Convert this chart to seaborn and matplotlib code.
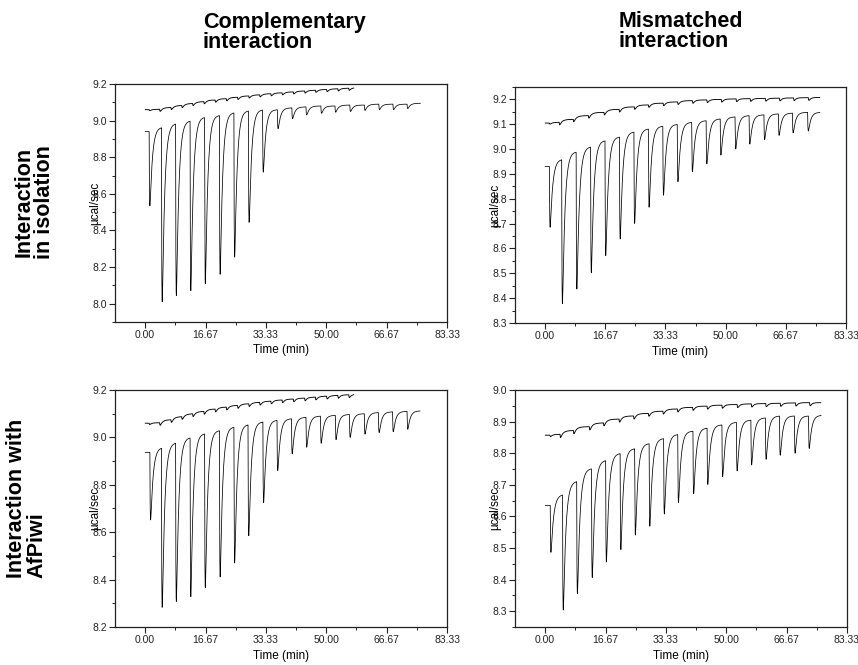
import numpy as np
import pandas as pd
import matplotlib
matplotlib.use("Agg")
import matplotlib.pyplot as plt
import seaborn as sns
from matplotlib.ticker import FixedLocator, MultipleLocator, FormatStrFormatter

# ---------------- data ----------------
col_titles = ["Complementary\ninteraction", "Mismatched\ninteraction"]
row_titles = ["Interaction\nin isolation", "Interaction with\nAfPiwi"]
x_ticks = [0.00, 16.67, 33.33, 50.00, 66.67, 83.33]

# Complementary, isolation (top-left)
tl_inj_t = [1.1, 4.5, 8.4, 12.4, 16.4, 20.5, 24.5, 28.5, 32.4, 36.5, 40.5, 44.4, 48.5, 52.4, 56.5, 60.5, 64.5, 68.4, 72.3]
tl_min = [8.53, 8.01, 8.045, 8.07, 8.11, 8.16, 8.255, 8.445, 8.72, 8.955, 9.01, 9.03, 9.04, 9.045, 9.05, 9.055, 9.06, 9.06, 9.065]
tl_base = [8.94, 8.965, 8.985, 9.0, 9.02, 9.03, 9.045, 9.055, 9.06, 9.06, 9.07, 9.075, 9.08, 9.08, 9.085, 9.085, 9.09, 9.09, 9.09, 9.095]
tl_end = 76.0
tl_ref_t = [1.1, 4.0, 7.1, 10.1, 13.1, 16.2, 19.3, 22.4, 25.5, 28.6, 31.6, 34.7, 37.8, 40.9, 44.0, 47.0, 50.1, 53.2, 56.2]
tl_ref_base = [9.06, 9.062, 9.072, 9.083, 9.094, 9.104, 9.113, 9.12, 9.128, 9.135, 9.141, 9.147, 9.152, 9.157, 9.162, 9.166, 9.17, 9.174, 9.177, 9.18]
tl_ref_dip = [0.006, 0.013, 0.013, 0.013, 0.013, 0.013, 0.013, 0.013, 0.013, 0.012, 0.012, 0.012, 0.012, 0.012, 0.012, 0.012, 0.012, 0.012, 0.012]
tl_ref_end = 57.6

# Mismatched, isolation (top-right)
tr_inj_t = [1.2, 4.6, 8.6, 12.6, 16.6, 20.6, 24.6, 28.6, 32.6, 36.6, 40.6, 44.6, 48.5, 52.6, 56.5, 60.6, 64.6, 68.5, 72.7]
tr_min = [8.68, 8.375, 8.435, 8.50, 8.57, 8.636, 8.70, 8.765, 8.814, 8.868, 8.908, 8.94, 8.975, 9.0, 9.02, 9.038, 9.055, 9.065, 9.073]
tr_base = [8.93, 8.96, 8.99, 9.01, 9.035, 9.05, 9.07, 9.082, 9.093, 9.10, 9.108, 9.115, 9.122, 9.13, 9.135, 9.138, 9.142, 9.145, 9.148, 9.148]
tr_end = 76.1
tr_ref_t = [1.2, 3.9, 7.8, 12.0, 16.3, 20.5, 24.7, 28.6, 32.7, 36.7, 40.8, 44.8, 48.8, 52.9, 56.8, 61.0, 64.9, 68.8, 72.9]
tr_ref_base = [9.105, 9.108, 9.12, 9.135, 9.148, 9.16, 9.17, 9.178, 9.185, 9.19, 9.195, 9.198, 9.2, 9.202, 9.203, 9.204, 9.205, 9.206, 9.207, 9.208]
tr_ref_dip = [0.005, 0.012, 0.012, 0.012, 0.012, 0.012, 0.011, 0.011, 0.011, 0.011, 0.011, 0.011, 0.011, 0.011, 0.011, 0.011, 0.011, 0.011, 0.011]
tr_ref_end = 76.1

# Complementary, with AfPiwi (bottom-left)
bl_inj_t = [1.3, 4.5, 8.4, 12.4, 16.4, 20.5, 24.5, 28.4, 32.5, 36.4, 40.4, 44.4, 48.4, 52.5, 56.4, 60.5, 64.4, 68.3, 72.3]
bl_min = [8.648, 8.282, 8.306, 8.327, 8.365, 8.41, 8.47, 8.585, 8.725, 8.86, 8.93, 8.958, 8.975, 8.99, 9.0, 9.013, 9.02, 9.024, 9.034]
bl_base = [8.937, 8.958, 8.978, 9.0, 9.017, 9.03, 9.045, 9.055, 9.066, 9.073, 9.079, 9.085, 9.09, 9.093, 9.097, 9.1, 9.105, 9.108, 9.11, 9.112]
bl_end = 75.9
bl_ref_t = [1.1, 4.0, 7.1, 10.1, 13.1, 16.2, 19.3, 22.4, 25.5, 28.6, 31.6, 34.7, 37.8, 40.9, 44.0, 47.0, 50.1, 53.2, 56.2]
bl_ref_base = [9.06, 9.062, 9.075, 9.088, 9.1, 9.11, 9.12, 9.128, 9.135, 9.142, 9.148, 9.153, 9.158, 9.162, 9.166, 9.17, 9.174, 9.177, 9.18, 9.182]
bl_ref_dip = [0.006, 0.013, 0.013, 0.013, 0.013, 0.013, 0.013, 0.013, 0.013, 0.012, 0.012, 0.012, 0.012, 0.012, 0.012, 0.012, 0.012, 0.012, 0.012]
bl_ref_end = 57.6

# Mismatched, with AfPiwi (bottom-right)
br_inj_t = [1.4, 4.8, 8.7, 12.8, 16.7, 20.7, 24.7, 28.7, 32.7, 36.6, 40.8, 44.7, 48.8, 52.8, 56.8, 60.8, 64.7, 68.8, 72.7]
br_min = [8.48, 8.298, 8.35, 8.403, 8.453, 8.493, 8.539, 8.567, 8.606, 8.643, 8.67, 8.70, 8.725, 8.743, 8.762, 8.78, 8.794, 8.80, 8.815]
br_base = [8.635, 8.67, 8.712, 8.752, 8.778, 8.80, 8.815, 8.831, 8.847, 8.86, 8.87, 8.88, 8.89, 8.898, 8.905, 8.912, 8.918, 8.918, 8.918, 8.92]
br_end = 76.2
br_ref_t = [1.3, 4.1, 7.8, 12.2, 16.1, 20.4, 24.4, 28.5, 32.5, 36.5, 40.7, 44.7, 48.8, 53.0, 56.9, 60.9, 64.9, 69.1, 73.0]
br_ref_base = [8.857, 8.86, 8.872, 8.884, 8.896, 8.908, 8.918, 8.926, 8.933, 8.94, 8.945, 8.949, 8.952, 8.954, 8.956, 8.957, 8.958, 8.959, 8.96, 8.96]
br_ref_dip = [0.005, 0.012, 0.012, 0.012, 0.011, 0.011, 0.011, 0.01, 0.01, 0.01, 0.01, 0.01, 0.01, 0.01, 0.01, 0.01, 0.01, 0.01, 0.01]
br_ref_end = 76.1

y_limits = [(7.9, 9.2), (8.3, 9.25), (8.2, 9.2), (8.25, 9.0)]
y_major = [0.2, 0.1, 0.2, 0.1]


# ---------------- trace rendering (injection peak shape) ----------------
def thermogram(t_end, inj_t, base, mins, tau=0.65, rise=0.1, tau_b=1.0):
    t = np.linspace(0.0, t_end, 6000)
    y = np.full_like(t, base[0])
    s_grid = np.linspace(0, 5, 5000)
    shape = (1 - np.exp(-s_grid / rise)) * np.exp(-s_grid / tau)
    fmax = shape.max()
    for i, ti in enumerate(inj_t):
        s = t - ti
        m = s > 0
        y[m] += (base[i + 1] - base[i]) * (1 - np.exp(-s[m] / tau_b))
        amp = base[i] - mins[i]
        y[m] -= amp * (1 - np.exp(-s[m] / rise)) * np.exp(-s[m] / tau) / fmax
    return pd.DataFrame({"t": t, "y": y})


panels = [
    (tl_end, tl_inj_t, tl_base, tl_min, tl_ref_end, tl_ref_t, tl_ref_base, tl_ref_dip),
    (tr_end, tr_inj_t, tr_base, tr_min, tr_ref_end, tr_ref_t, tr_ref_base, tr_ref_dip),
    (bl_end, bl_inj_t, bl_base, bl_min, bl_ref_end, bl_ref_t, bl_ref_base, bl_ref_dip),
    (br_end, br_inj_t, br_base, br_min, br_ref_end, br_ref_t, br_ref_base, br_ref_dip),
]

sns.set_style("ticks")
plt.rcParams["font.family"] = ["Liberation Sans Narrow", "Liberation Sans", "DejaVu Sans"]
plt.rcParams["text.color"] = "black"
plt.rcParams["axes.labelcolor"] = "black"

W, H = 858, 665
fig = plt.figure(figsize=(W / 100, H / 100), dpi=100)

boxes_px = [(115, 84, 447, 322), (515, 87, 846, 323), (115, 390, 447, 627), (515, 390, 847, 627)]

for k, (box, p) in enumerate(zip(boxes_px, panels)):
    l, t, r, b = box
    ax = fig.add_axes([l / W, 1 - b / H, (r - l) / W, (b - t) / H])
    end, it, bs, mn, rend, rt, rb, rd = p
    main = thermogram(end, it, bs, mn)
    ref_min = [bv - d for bv, d in zip(rb[:-1], rd)]
    ref = thermogram(rend, rt, rb, ref_min, tau=0.5, rise=0.1, tau_b=1.0)
    sns.lineplot(data=ref, x="t", y="y", ax=ax, color="black", lw=0.65,
                 estimator=None, sort=False)
    sns.lineplot(data=main, x="t", y="y", ax=ax, color="black", lw=0.55,
                 estimator=None, sort=False)
    ax.set_xlim(-8.33, 83.33)
    ax.set_ylim(*y_limits[k])
    ax.xaxis.set_major_locator(FixedLocator(x_ticks))
    ax.xaxis.set_major_formatter(FormatStrFormatter("%.2f"))
    ax.xaxis.set_minor_locator(MultipleLocator(8.333333))
    ax.yaxis.set_major_locator(MultipleLocator(y_major[k]))
    ax.yaxis.set_minor_locator(MultipleLocator(y_major[k] / 2))
    ax.yaxis.set_major_formatter(FormatStrFormatter("%.1f"))
    ax.tick_params(which="major", direction="out", length=4, width=0.8,
                   labelsize=7.5, pad=2, colors="#222222", labelcolor="#222222")
    ax.tick_params(which="minor", direction="out", length=2.2, width=0.7, colors="#222222")
    for sp in ax.spines.values():
        sp.set_visible(True)
        sp.set_linewidth(0.9)
        sp.set_color("#222222")
    ax.set_xlabel("Time (min)", fontsize=8.5, labelpad=3, color="black")
    ax.set_ylabel("µcal/sec", fontsize=8.5, color="black")
    ax.yaxis.set_label_coords(-0.042, 0.5)

bold_family = ["Liberation Sans", "DejaVu Sans"]
# column titles
fig.text(203 / W, 1 - 12 / H, col_titles[0], ha="left", va="top", color="black",
         fontsize=15.5, fontweight="bold", family=bold_family, linespacing=0.95)
fig.text(619 / W, 1 - 11 / H, col_titles[1], ha="left", va="top", color="black",
         fontsize=15.5, fontweight="bold", family=bold_family, linespacing=0.95)

# row titles
fig.text(34 / W, 1 - 202 / H, row_titles[0], rotation=90, ha="center", va="center",
         color="black", fontsize=15.5, fontweight="bold", family=bold_family,
         linespacing=0.95, multialignment="center")
fig.text(27 / W, 1 - 578 / H, row_titles[1], rotation=90, ha="center", va="bottom",
         color="black", fontsize=15.5, fontweight="bold", family=bold_family,
         linespacing=0.95, multialignment="left")

fig.savefig("out.png", dpi=100)
